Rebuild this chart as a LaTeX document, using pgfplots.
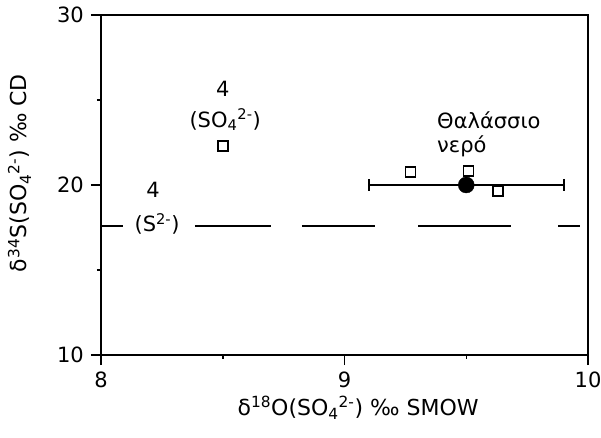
\documentclass[border=0pt]{standalone}
\usepackage{fontspec}
\setmainfont{DejaVu Sans}
\usepackage{pgfplots}
\pgfplotsset{compat=1.18}

\begin{document}
\fontsize{21}{25}\selectfont
\begin{tikzpicture}
\path[use as bounding box] (-101pt,-83pt) rectangle (500pt,355pt);
\begin{axis}[
  at={(0,0)}, anchor=south west,
  width=487pt, height=340pt, scale only axis,
  xmin=8, xmax=10, ymin=10, ymax=30,
  xtick={8,9,10}, ytick={10,20,30},
  minor xtick={8.5,9.5}, minor ytick={15,25},
  tick align=outside, xtick pos=bottom, ytick pos=left,
  major tick length=10pt, minor tick length=4pt,
  axis line style={line width=1.8pt},
  every tick/.style={black, line width=1.5pt},
  tick label style={font=\fontsize{21}{25}\selectfont},
  /pgf/number format/assume math mode=true,
  xlabel={δ\textsuperscript{18}O(SO\textsubscript{4}\textsuperscript{2-}) ‰ SMOW},
  ylabel={δ\textsuperscript{34}S(SO\textsubscript{4}\textsuperscript{2-}) ‰ CD},
  label style={font=\fontsize{22}{26}\selectfont},
  xlabel style={at={(axis description cs:0.528,0)}, yshift=-60pt, anchor=base},
  ylabel style={at={(axis description cs:-0.152,0.535)}, anchor=base},
  clip=false,
]
% dashed reference line (S2-)
\addplot[black, line width=1.8pt, unbounded coords=jump] coordinates {
  (8.0,17.6) (8.09,17.6) (8.1,nan)
  (8.386,17.6) (8.698,17.6) (8.7,nan)
  (8.825,17.6) (9.125,17.6) (9.13,nan)
  (9.302,17.6) (9.684,17.6) (9.69,nan)
  (9.877,17.6) (9.967,17.6)
};
% seawater mean with range
\addplot[black, only marks, mark=*, mark size=8pt,
  error bars/.cd, x dir=both, x explicit, error mark=|,
  error bar style={line width=1.8pt},
  error mark options={line width=1.8pt, mark size=6pt}]
  coordinates {(9.5,20.0) +- (0.4,0)};
% samples
\addplot[black, only marks, mark=square, mark size=5pt, mark options={line width=1.5pt}]
  coordinates {(8.5,22.3) (9.27,20.76) (9.51,20.82) (9.63,19.65)};

\node[anchor=base, inner sep=0pt] at (axis cs:8.5,25.18) {4};
\node[anchor=base, inner sep=0pt] at (axis cs:8.51,23.41) {(SO\textsubscript{4}\textsuperscript{2-})};
\node[anchor=base, inner sep=0pt] at (axis cs:8.214,19.29) {4};
\node[anchor=base, inner sep=0pt] at (axis cs:8.23,17.24) {(S\textsuperscript{2-})};
\node[anchor=base west, inner sep=0pt] at (axis cs:9.38,23.35) {Θαλάσσιο};
\node[anchor=base west, inner sep=0pt] at (axis cs:9.38,21.94) {νερό};
\end{axis}
\end{tikzpicture}
\end{document}
